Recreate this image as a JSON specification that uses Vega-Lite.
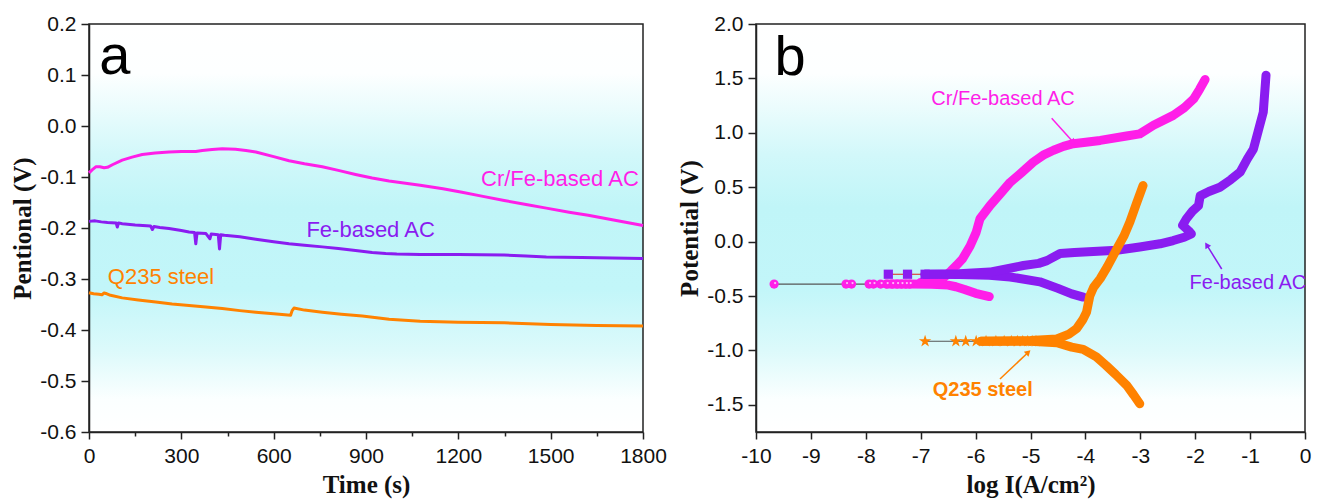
{
  "$schema": "https://vega.github.io/schema/vega-lite/v6.json",
  "background": "white",
  "padding": {"left": 10, "top": 12, "right": 8, "bottom": 4},
  "spacing": 9,
  "config": {
    "view": {
      "stroke": "#222222",
      "strokeWidth": 1.5,
      "fill": {
        "gradient": "linear", "x1": 0, "y1": 0, "x2": 0, "y2": 1,
        "stops": [
          {"offset": 0, "color": "#ffffff"},
          {"offset": 0.12, "color": "#fdffff"},
          {"offset": 0.32, "color": "#d2f8fa"},
          {"offset": 0.45, "color": "#c0f5f8"},
          {"offset": 0.65, "color": "#c2f6f9"},
          {"offset": 0.8, "color": "#dcfafb"},
          {"offset": 0.92, "color": "#fbffff"},
          {"offset": 1, "color": "#ffffff"}
        ]
      }
    },
    "axis": {
      "labelFont": "Liberation Sans",
      "labelFontSize": 21,
      "labelColor": "#111111",
      "labelOverlap": false,
      "titleFont": "Liberation Serif",
      "titleFontSize": 25,
      "titleFontWeight": "bold",
      "titleColor": "#111111",
      "domainColor": "#222222",
      "domainWidth": 1.5,
      "tickColor": "#222222",
      "tickWidth": 1.5,
      "grid": false,
      "labelPadding": 5
    },
    "text": {"font": "Liberation Sans"}
  },
  "datasets": {
    "ocp": [
      {"s": "Cr/Fe-based AC", "t": 0, "v": -0.092},
      {"s": "Cr/Fe-based AC", "t": 10, "v": -0.086},
      {"s": "Cr/Fe-based AC", "t": 22, "v": -0.080},
      {"s": "Cr/Fe-based AC", "t": 35, "v": -0.080},
      {"s": "Cr/Fe-based AC", "t": 49, "v": -0.082},
      {"s": "Cr/Fe-based AC", "t": 60, "v": -0.081},
      {"s": "Cr/Fe-based AC", "t": 76, "v": -0.076},
      {"s": "Cr/Fe-based AC", "t": 108, "v": -0.067},
      {"s": "Cr/Fe-based AC", "t": 140, "v": -0.061},
      {"s": "Cr/Fe-based AC", "t": 173, "v": -0.056},
      {"s": "Cr/Fe-based AC", "t": 215, "v": -0.053},
      {"s": "Cr/Fe-based AC", "t": 260, "v": -0.051},
      {"s": "Cr/Fe-based AC", "t": 300, "v": -0.050},
      {"s": "Cr/Fe-based AC", "t": 347, "v": -0.050},
      {"s": "Cr/Fe-based AC", "t": 368, "v": -0.048},
      {"s": "Cr/Fe-based AC", "t": 400, "v": -0.046},
      {"s": "Cr/Fe-based AC", "t": 433, "v": -0.0445},
      {"s": "Cr/Fe-based AC", "t": 476, "v": -0.0455},
      {"s": "Cr/Fe-based AC", "t": 510, "v": -0.048},
      {"s": "Cr/Fe-based AC", "t": 542, "v": -0.051},
      {"s": "Cr/Fe-based AC", "t": 600, "v": -0.060},
      {"s": "Cr/Fe-based AC", "t": 650, "v": -0.068},
      {"s": "Cr/Fe-based AC", "t": 700, "v": -0.074},
      {"s": "Cr/Fe-based AC", "t": 758, "v": -0.080},
      {"s": "Cr/Fe-based AC", "t": 810, "v": -0.087},
      {"s": "Cr/Fe-based AC", "t": 866, "v": -0.095},
      {"s": "Cr/Fe-based AC", "t": 920, "v": -0.102},
      {"s": "Cr/Fe-based AC", "t": 975, "v": -0.108},
      {"s": "Cr/Fe-based AC", "t": 1076, "v": -0.116},
      {"s": "Cr/Fe-based AC", "t": 1150, "v": -0.123},
      {"s": "Cr/Fe-based AC", "t": 1212, "v": -0.130},
      {"s": "Cr/Fe-based AC", "t": 1280, "v": -0.138},
      {"s": "Cr/Fe-based AC", "t": 1349, "v": -0.146},
      {"s": "Cr/Fe-based AC", "t": 1420, "v": -0.154},
      {"s": "Cr/Fe-based AC", "t": 1486, "v": -0.161},
      {"s": "Cr/Fe-based AC", "t": 1560, "v": -0.169},
      {"s": "Cr/Fe-based AC", "t": 1622, "v": -0.175},
      {"s": "Cr/Fe-based AC", "t": 1700, "v": -0.184},
      {"s": "Cr/Fe-based AC", "t": 1800, "v": -0.195},
      {"s": "Fe-based AC", "t": 0, "v": -0.187},
      {"s": "Fe-based AC", "t": 20, "v": -0.186},
      {"s": "Fe-based AC", "t": 40, "v": -0.188},
      {"s": "Fe-based AC", "t": 60, "v": -0.189},
      {"s": "Fe-based AC", "t": 88, "v": -0.190},
      {"s": "Fe-based AC", "t": 92, "v": -0.198},
      {"s": "Fe-based AC", "t": 96, "v": -0.190},
      {"s": "Fe-based AC", "t": 108, "v": -0.1915},
      {"s": "Fe-based AC", "t": 150, "v": -0.194},
      {"s": "Fe-based AC", "t": 200, "v": -0.196},
      {"s": "Fe-based AC", "t": 206, "v": -0.203},
      {"s": "Fe-based AC", "t": 211, "v": -0.197},
      {"s": "Fe-based AC", "t": 230, "v": -0.199},
      {"s": "Fe-based AC", "t": 260, "v": -0.201},
      {"s": "Fe-based AC", "t": 300, "v": -0.205},
      {"s": "Fe-based AC", "t": 325, "v": -0.208},
      {"s": "Fe-based AC", "t": 343, "v": -0.209},
      {"s": "Fe-based AC", "t": 347, "v": -0.231},
      {"s": "Fe-based AC", "t": 351, "v": -0.210},
      {"s": "Fe-based AC", "t": 380, "v": -0.211},
      {"s": "Fe-based AC", "t": 393, "v": -0.221},
      {"s": "Fe-based AC", "t": 397, "v": -0.212},
      {"s": "Fe-based AC", "t": 420, "v": -0.213},
      {"s": "Fe-based AC", "t": 424, "v": -0.241},
      {"s": "Fe-based AC", "t": 428, "v": -0.213},
      {"s": "Fe-based AC", "t": 440, "v": -0.214},
      {"s": "Fe-based AC", "t": 490, "v": -0.217},
      {"s": "Fe-based AC", "t": 542, "v": -0.222},
      {"s": "Fe-based AC", "t": 600, "v": -0.227},
      {"s": "Fe-based AC", "t": 650, "v": -0.231},
      {"s": "Fe-based AC", "t": 700, "v": -0.234},
      {"s": "Fe-based AC", "t": 758, "v": -0.237},
      {"s": "Fe-based AC", "t": 810, "v": -0.240},
      {"s": "Fe-based AC", "t": 866, "v": -0.244},
      {"s": "Fe-based AC", "t": 920, "v": -0.248},
      {"s": "Fe-based AC", "t": 964, "v": -0.250},
      {"s": "Fe-based AC", "t": 1000, "v": -0.251},
      {"s": "Fe-based AC", "t": 1076, "v": -0.252},
      {"s": "Fe-based AC", "t": 1200, "v": -0.252},
      {"s": "Fe-based AC", "t": 1349, "v": -0.253},
      {"s": "Fe-based AC", "t": 1420, "v": -0.255},
      {"s": "Fe-based AC", "t": 1486, "v": -0.257},
      {"s": "Fe-based AC", "t": 1600, "v": -0.258},
      {"s": "Fe-based AC", "t": 1700, "v": -0.259},
      {"s": "Fe-based AC", "t": 1800, "v": -0.260},
      {"s": "Q235 steel", "t": 0, "v": -0.327},
      {"s": "Q235 steel", "t": 15, "v": -0.329},
      {"s": "Q235 steel", "t": 32, "v": -0.330},
      {"s": "Q235 steel", "t": 42, "v": -0.331},
      {"s": "Q235 steel", "t": 49, "v": -0.3275},
      {"s": "Q235 steel", "t": 58, "v": -0.329},
      {"s": "Q235 steel", "t": 70, "v": -0.332},
      {"s": "Q235 steel", "t": 108, "v": -0.337},
      {"s": "Q235 steel", "t": 160, "v": -0.341},
      {"s": "Q235 steel", "t": 217, "v": -0.345},
      {"s": "Q235 steel", "t": 270, "v": -0.349},
      {"s": "Q235 steel", "t": 325, "v": -0.352},
      {"s": "Q235 steel", "t": 380, "v": -0.355},
      {"s": "Q235 steel", "t": 433, "v": -0.358},
      {"s": "Q235 steel", "t": 490, "v": -0.362},
      {"s": "Q235 steel", "t": 542, "v": -0.365},
      {"s": "Q235 steel", "t": 600, "v": -0.368},
      {"s": "Q235 steel", "t": 655, "v": -0.371},
      {"s": "Q235 steel", "t": 660, "v": -0.362},
      {"s": "Q235 steel", "t": 666, "v": -0.357},
      {"s": "Q235 steel", "t": 700, "v": -0.361},
      {"s": "Q235 steel", "t": 758, "v": -0.365},
      {"s": "Q235 steel", "t": 820, "v": -0.369},
      {"s": "Q235 steel", "t": 888, "v": -0.3725},
      {"s": "Q235 steel", "t": 975, "v": -0.379},
      {"s": "Q235 steel", "t": 1076, "v": -0.383},
      {"s": "Q235 steel", "t": 1200, "v": -0.385},
      {"s": "Q235 steel", "t": 1349, "v": -0.386},
      {"s": "Q235 steel", "t": 1500, "v": -0.389},
      {"s": "Q235 steel", "t": 1650, "v": -0.391},
      {"s": "Q235 steel", "t": 1800, "v": -0.392}
    ],
    "ocpLab": [
      {"s": "Cr/Fe-based AC", "t": 1530, "v": -0.103},
      {"s": "Fe-based AC", "t": 915, "v": -0.204},
      {"s": "Q235 steel", "t": 234, "v": -0.296}
    ],
    "pol": [
      {"s": "Cr/Fe-based AC", "b": "c", "o": 1, "x": -7.62, "e": -0.39},
      {"s": "Cr/Fe-based AC", "b": "c", "o": 2, "x": -7.2, "e": -0.39},
      {"s": "Cr/Fe-based AC", "b": "c", "o": 3, "x": -6.8, "e": -0.392},
      {"s": "Cr/Fe-based AC", "b": "c", "o": 4, "x": -6.5, "e": -0.40},
      {"s": "Cr/Fe-based AC", "b": "c", "o": 5, "x": -6.36, "e": -0.415},
      {"s": "Cr/Fe-based AC", "b": "c", "o": 6, "x": -6.2, "e": -0.44},
      {"s": "Cr/Fe-based AC", "b": "c", "o": 7, "x": -6.0, "e": -0.475},
      {"s": "Cr/Fe-based AC", "b": "c", "o": 8, "x": -5.75, "e": -0.505},
      {"s": "Cr/Fe-based AC", "b": "a", "o": 1, "x": -7.0, "e": -0.375},
      {"s": "Cr/Fe-based AC", "b": "a", "o": 2, "x": -6.75, "e": -0.355},
      {"s": "Cr/Fe-based AC", "b": "a", "o": 3, "x": -6.6, "e": -0.34},
      {"s": "Cr/Fe-based AC", "b": "a", "o": 4, "x": -6.45, "e": -0.27},
      {"s": "Cr/Fe-based AC", "b": "a", "o": 5, "x": -6.35, "e": -0.22},
      {"s": "Cr/Fe-based AC", "b": "a", "o": 6, "x": -6.24, "e": -0.16},
      {"s": "Cr/Fe-based AC", "b": "a", "o": 7, "x": -6.1, "e": -0.04},
      {"s": "Cr/Fe-based AC", "b": "a", "o": 8, "x": -5.99, "e": 0.085},
      {"s": "Cr/Fe-based AC", "b": "a", "o": 9, "x": -5.92, "e": 0.21},
      {"s": "Cr/Fe-based AC", "b": "a", "o": 10, "x": -5.74, "e": 0.33},
      {"s": "Cr/Fe-based AC", "b": "a", "o": 11, "x": -5.55, "e": 0.44},
      {"s": "Cr/Fe-based AC", "b": "a", "o": 12, "x": -5.37, "e": 0.545},
      {"s": "Cr/Fe-based AC", "b": "a", "o": 13, "x": -5.15, "e": 0.64},
      {"s": "Cr/Fe-based AC", "b": "a", "o": 14, "x": -4.95, "e": 0.73},
      {"s": "Cr/Fe-based AC", "b": "a", "o": 15, "x": -4.75, "e": 0.80},
      {"s": "Cr/Fe-based AC", "b": "a", "o": 16, "x": -4.58, "e": 0.84},
      {"s": "Cr/Fe-based AC", "b": "a", "o": 17, "x": -4.4, "e": 0.875},
      {"s": "Cr/Fe-based AC", "b": "a", "o": 18, "x": -4.22, "e": 0.90},
      {"s": "Cr/Fe-based AC", "b": "a", "o": 19, "x": -3.73, "e": 0.93},
      {"s": "Cr/Fe-based AC", "b": "a", "o": 20, "x": -3.25, "e": 0.97},
      {"s": "Cr/Fe-based AC", "b": "a", "o": 21, "x": -3.01, "e": 0.99},
      {"s": "Cr/Fe-based AC", "b": "a", "o": 22, "x": -2.76, "e": 1.07},
      {"s": "Cr/Fe-based AC", "b": "a", "o": 23, "x": -2.40, "e": 1.16},
      {"s": "Cr/Fe-based AC", "b": "a", "o": 24, "x": -2.2, "e": 1.23},
      {"s": "Cr/Fe-based AC", "b": "a", "o": 25, "x": -2.03, "e": 1.31},
      {"s": "Cr/Fe-based AC", "b": "a", "o": 26, "x": -1.92, "e": 1.40},
      {"s": "Cr/Fe-based AC", "b": "a", "o": 27, "x": -1.82, "e": 1.49},
      {"s": "Fe-based AC", "b": "c", "o": 1, "x": -6.92, "e": -0.30},
      {"s": "Fe-based AC", "b": "c", "o": 2, "x": -6.3, "e": -0.302},
      {"s": "Fe-based AC", "b": "c", "o": 3, "x": -5.75, "e": -0.31},
      {"s": "Fe-based AC", "b": "c", "o": 4, "x": -5.37, "e": -0.325},
      {"s": "Fe-based AC", "b": "c", "o": 5, "x": -4.83, "e": -0.37},
      {"s": "Fe-based AC", "b": "c", "o": 6, "x": -4.5, "e": -0.43},
      {"s": "Fe-based AC", "b": "c", "o": 7, "x": -4.25, "e": -0.48},
      {"s": "Fe-based AC", "b": "c", "o": 8, "x": -4.04, "e": -0.51},
      {"s": "Fe-based AC", "b": "a", "o": 1, "x": -6.92, "e": -0.30},
      {"s": "Fe-based AC", "b": "a", "o": 2, "x": -6.3, "e": -0.295},
      {"s": "Fe-based AC", "b": "a", "o": 3, "x": -5.74, "e": -0.28},
      {"s": "Fe-based AC", "b": "a", "o": 4, "x": -5.13, "e": -0.22},
      {"s": "Fe-based AC", "b": "a", "o": 5, "x": -4.85, "e": -0.20},
      {"s": "Fe-based AC", "b": "a", "o": 6, "x": -4.70, "e": -0.175},
      {"s": "Fe-based AC", "b": "a", "o": 7, "x": -4.46, "e": -0.11},
      {"s": "Fe-based AC", "b": "a", "o": 8, "x": -4.2, "e": -0.10},
      {"s": "Fe-based AC", "b": "a", "o": 9, "x": -3.43, "e": -0.08},
      {"s": "Fe-based AC", "b": "a", "o": 10, "x": -3.01, "e": -0.05},
      {"s": "Fe-based AC", "b": "a", "o": 11, "x": -2.64, "e": -0.02},
      {"s": "Fe-based AC", "b": "a", "o": 12, "x": -2.40, "e": 0.01},
      {"s": "Fe-based AC", "b": "a", "o": 13, "x": -2.2, "e": 0.04},
      {"s": "Fe-based AC", "b": "a", "o": 14, "x": -2.07, "e": 0.07},
      {"s": "Fe-based AC", "b": "a", "o": 15, "x": -2.12, "e": 0.10},
      {"s": "Fe-based AC", "b": "a", "o": 16, "x": -2.23, "e": 0.15},
      {"s": "Fe-based AC", "b": "a", "o": 17, "x": -2.16, "e": 0.21},
      {"s": "Fe-based AC", "b": "a", "o": 18, "x": -2.05, "e": 0.28},
      {"s": "Fe-based AC", "b": "a", "o": 19, "x": -1.94, "e": 0.33},
      {"s": "Fe-based AC", "b": "a", "o": 20, "x": -1.91, "e": 0.42},
      {"s": "Fe-based AC", "b": "a", "o": 21, "x": -1.75, "e": 0.46},
      {"s": "Fe-based AC", "b": "a", "o": 22, "x": -1.55, "e": 0.50},
      {"s": "Fe-based AC", "b": "a", "o": 23, "x": -1.35, "e": 0.57},
      {"s": "Fe-based AC", "b": "a", "o": 24, "x": -1.18, "e": 0.64},
      {"s": "Fe-based AC", "b": "a", "o": 25, "x": -1.05, "e": 0.76},
      {"s": "Fe-based AC", "b": "a", "o": 26, "x": -0.94, "e": 0.85},
      {"s": "Fe-based AC", "b": "a", "o": 27, "x": -0.85, "e": 1.02},
      {"s": "Fe-based AC", "b": "a", "o": 28, "x": -0.76, "e": 1.19},
      {"s": "Fe-based AC", "b": "a", "o": 29, "x": -0.71, "e": 1.53},
      {"s": "Q235 steel", "b": "c", "o": 1, "x": -5.9, "e": -0.916},
      {"s": "Q235 steel", "b": "c", "o": 2, "x": -5.0, "e": -0.915},
      {"s": "Q235 steel", "b": "c", "o": 3, "x": -4.52, "e": -0.93},
      {"s": "Q235 steel", "b": "c", "o": 4, "x": -4.25, "e": -0.97},
      {"s": "Q235 steel", "b": "c", "o": 5, "x": -4.04, "e": -0.99},
      {"s": "Q235 steel", "b": "c", "o": 6, "x": -3.8, "e": -1.06},
      {"s": "Q235 steel", "b": "c", "o": 7, "x": -3.62, "e": -1.14},
      {"s": "Q235 steel", "b": "c", "o": 8, "x": -3.45, "e": -1.22},
      {"s": "Q235 steel", "b": "c", "o": 9, "x": -3.25, "e": -1.32},
      {"s": "Q235 steel", "b": "c", "o": 10, "x": -3.12, "e": -1.41},
      {"s": "Q235 steel", "b": "c", "o": 11, "x": -3.01, "e": -1.49},
      {"s": "Q235 steel", "b": "a", "o": 1, "x": -5.9, "e": -0.916},
      {"s": "Q235 steel", "b": "a", "o": 2, "x": -5.0, "e": -0.91},
      {"s": "Q235 steel", "b": "a", "o": 3, "x": -4.52, "e": -0.895},
      {"s": "Q235 steel", "b": "a", "o": 4, "x": -4.3, "e": -0.85},
      {"s": "Q235 steel", "b": "a", "o": 5, "x": -4.16, "e": -0.80},
      {"s": "Q235 steel", "b": "a", "o": 6, "x": -4.05, "e": -0.72},
      {"s": "Q235 steel", "b": "a", "o": 7, "x": -3.98, "e": -0.65},
      {"s": "Q235 steel", "b": "a", "o": 8, "x": -3.92, "e": -0.50},
      {"s": "Q235 steel", "b": "a", "o": 9, "x": -3.85, "e": -0.42},
      {"s": "Q235 steel", "b": "a", "o": 10, "x": -3.73, "e": -0.34},
      {"s": "Q235 steel", "b": "a", "o": 11, "x": -3.6, "e": -0.23},
      {"s": "Q235 steel", "b": "a", "o": 12, "x": -3.43, "e": -0.07},
      {"s": "Q235 steel", "b": "a", "o": 13, "x": -3.3, "e": 0.05},
      {"s": "Q235 steel", "b": "a", "o": 14, "x": -3.19, "e": 0.18},
      {"s": "Q235 steel", "b": "a", "o": 15, "x": -3.07, "e": 0.35},
      {"s": "Q235 steel", "b": "a", "o": 16, "x": -2.95, "e": 0.515}
    ],
    "tail": [
      {"s": "Cr/Fe-based AC", "x": -9.67, "e": -0.39},
      {"s": "Cr/Fe-based AC", "x": -8.36, "e": -0.39},
      {"s": "Cr/Fe-based AC", "x": -8.26, "e": -0.39},
      {"s": "Cr/Fe-based AC", "x": -7.94, "e": -0.39},
      {"s": "Cr/Fe-based AC", "x": -7.86, "e": -0.39},
      {"s": "Cr/Fe-based AC", "x": -7.73, "e": -0.39},
      {"s": "Cr/Fe-based AC", "x": -7.62, "e": -0.39},
      {"s": "Cr/Fe-based AC", "x": -7.52, "e": -0.39},
      {"s": "Cr/Fe-based AC", "x": -7.43, "e": -0.39},
      {"s": "Cr/Fe-based AC", "x": -7.35, "e": -0.39},
      {"s": "Cr/Fe-based AC", "x": -7.27, "e": -0.39},
      {"s": "Cr/Fe-based AC", "x": -7.2, "e": -0.39},
      {"s": "Fe-based AC", "x": -7.59, "e": -0.30},
      {"s": "Fe-based AC", "x": -7.24, "e": -0.30},
      {"s": "Fe-based AC", "x": -6.92, "e": -0.30},
      {"s": "Q235 steel", "x": -6.92, "e": -0.916},
      {"s": "Q235 steel", "x": -6.36, "e": -0.916},
      {"s": "Q235 steel", "x": -6.18, "e": -0.916},
      {"s": "Q235 steel", "x": -5.99, "e": -0.916},
      {"s": "Q235 steel", "x": -5.81, "e": -0.916},
      {"s": "Q235 steel", "x": -5.63, "e": -0.916},
      {"s": "Q235 steel", "x": -5.48, "e": -0.916},
      {"s": "Q235 steel", "x": -5.35, "e": -0.916},
      {"s": "Q235 steel", "x": -5.24, "e": -0.916},
      {"s": "Q235 steel", "x": -5.14, "e": -0.916},
      {"s": "Q235 steel", "x": -5.05, "e": -0.916},
      {"s": "Q235 steel", "x": -4.97, "e": -0.916},
      {"s": "Q235 steel", "x": -4.9, "e": -0.916}
    ],
    "polLab": [
      {"s": "Cr/Fe-based AC", "x": -5.50, "e": 1.31},
      {"s": "Fe-based AC", "x": -1.04, "e": -0.376}
    ],
    "arrows": [
      {"s": "Cr/Fe-based AC", "x1": -4.614, "y1": 1.133, "x2": -4.22, "y2": 0.913},
      {"s": "Fe-based AC", "x1": -1.517, "y1": -0.252, "x2": -1.79, "y2": -0.031},
      {"s": "Q235 steel", "x1": -5.556, "y1": -1.263, "x2": -5.04, "y2": -1.017}
    ]
  },
  "hconcat": [
    {
      "width": 554,
      "height": 408,
      "layer": [
        {
          "data": {"name": "ocp"},
          "mark": {"type": "line", "strokeWidth": 3, "strokeJoin": "round"},
          "encoding": {
            "x": {
              "field": "t", "type": "quantitative",
              "scale": {"domain": [0, 1800], "nice": false, "zero": false},
              "axis": {
                "title": "Time (s)",
                "values": [0, 150, 300, 450, 600, 750, 900, 1050, 1200, 1350, 1500, 1650, 1800],
                "format": "d",
                "labelExpr": "datum.value % 300 == 0 ? datum.label : ''",
                "tickSize": {"condition": {"test": "datum.value % 300 == 0", "value": 7}, "value": 4},
                "labelOverlap": false,
                "labelPadding": 6,
                "titlePadding": 6,
                "labelFlush": false
              }
            },
            "y": {
              "field": "v", "type": "quantitative",
              "scale": {"domain": [-0.6, 0.2], "nice": false, "zero": false},
              "axis": {
                "title": "Pentional (V)",
                "values": [-0.6, -0.55, -0.5, -0.45, -0.4, -0.35, -0.3, -0.25, -0.2, -0.15, -0.1, -0.05, 0, 0.05, 0.1, 0.15, 0.2],
                "format": ".1f",
                "labelExpr": "abs(round(datum.value*20)) % 2 == 0 ? replace(datum.label, '\u2212', '-') : ''",
                "tickSize": {"condition": {"test": "abs(round(datum.value*20)) % 2 == 0", "value": 8}, "value": 4},
                "labelOverlap": false,
                "labelPadding": 5,
                "titlePadding": 4
              }
            },
            "color": {
              "field": "s", "type": "nominal",
              "scale": {"domain": ["Cr/Fe-based AC", "Fe-based AC", "Q235 steel"], "range": ["#ff1ee8", "#8a1cf0", "#ff8200"]},
              "legend": null
            }
          }
        },
        {
          "data": {"name": "ocpLab"},
          "mark": {"type": "text", "fontSize": 22, "align": "center", "baseline": "middle", "font": "Liberation Sans"},
          "encoding": {
            "x": {"field": "t", "type": "quantitative"},
            "y": {"field": "v", "type": "quantitative"},
            "text": {"field": "s"},
            "color": {"field": "s", "type": "nominal", "scale": {"domain": ["Cr/Fe-based AC", "Fe-based AC", "Q235 steel"], "range": ["#ff1ee8", "#8a1cf0", "#ff8200"]}, "legend": null}
          }
        },
        {
          "data": {"values": [{"t": 84, "v": 0.102, "txt": "a"}]},
          "mark": {"type": "text", "fontSize": 56, "align": "center", "baseline": "alphabetic", "font": "Liberation Sans", "color": "#000000"},
          "encoding": {
            "x": {"field": "t", "type": "quantitative"},
            "y": {"field": "v", "type": "quantitative"},
            "text": {"field": "txt"}
          }
        }
      ]
    },
    {
      "width": 549,
      "height": 408,
      "layer": [
        {
          "data": {"name": "tail"},
          "transform": [{"filter": "datum.s != 'Fe-based AC'"}],
          "mark": {"type": "line", "strokeWidth": 1.2, "color": "#555555"},
          "encoding": {
            "x": {
              "field": "x", "type": "quantitative",
              "scale": {"domain": [-10, 0], "nice": false, "zero": false},
              "axis": {
                "title": "log I(A/cm²)",
                "values": [-10, -9.5, -9, -8.5, -8, -7.5, -7, -6.5, -6, -5.5, -5, -4.5, -4, -3.5, -3, -2.5, -2, -1.5, -1, -0.5, 0],
                "labelExpr": "datum.value % 1 == 0 ? replace(format(datum.value, 'd'), '\u2212', '-') : ''",
                "tickSize": {"condition": {"test": "datum.value % 1 == 0", "value": 7}, "value": 4},
                "labelOverlap": false,
                "labelPadding": 6,
                "titlePadding": 6,
                "labelFlush": false
              }
            },
            "y": {
              "field": "e", "type": "quantitative",
              "scale": {"domain": [-1.75, 2.0], "nice": false, "zero": false},
              "axis": {
                "title": "Potential (V)",
                "values": [-1.5, -1.25, -1, -0.75, -0.5, -0.25, 0, 0.25, 0.5, 0.75, 1, 1.25, 1.5, 1.75, 2],
                "format": ".1f",
                "labelExpr": "abs(round(datum.value*4)) % 2 == 0 ? replace(datum.label, '\u2212', '-') : ''",
                "tickSize": {"condition": {"test": "abs(round(datum.value*4)) % 2 == 0", "value": 8}, "value": 4},
                "labelOverlap": false,
                "labelPadding": 5,
                "titlePadding": 4
              }
            },
            "detail": {"field": "s"}
          }
        },
        {
          "data": {"name": "tail"},
          "transform": [{"filter": "datum.s == 'Fe-based AC'"}],
          "mark": {"type": "line", "strokeWidth": 1.2, "color": "#e0201a"},
          "encoding": {
            "x": {"field": "x", "type": "quantitative"},
            "y": {"field": "e", "type": "quantitative"}
          }
        },
        {
          "data": {"name": "pol"},
          "mark": {"type": "line", "strokeWidth": 9, "strokeCap": "round", "strokeJoin": "round"},
          "encoding": {
            "x": {"field": "x", "type": "quantitative"},
            "y": {"field": "e", "type": "quantitative"},
            "color": {"field": "s", "type": "nominal", "scale": {"domain": ["Cr/Fe-based AC", "Fe-based AC", "Q235 steel"], "range": ["#ff1ee8", "#8a1cf0", "#ff8200"]}, "legend": null},
            "detail": {"field": "b"},
            "order": {"field": "o", "type": "quantitative"}
          }
        },
        {
          "data": {"name": "tail"},
          "transform": [{"filter": "datum.s != 'Q235 steel'"}],
          "mark": {"type": "point", "filled": true, "opacity": 1, "size": 85},
          "encoding": {
            "x": {"field": "x", "type": "quantitative"},
            "y": {"field": "e", "type": "quantitative"},
            "color": {"field": "s", "type": "nominal", "scale": {"domain": ["Cr/Fe-based AC", "Fe-based AC", "Q235 steel"], "range": ["#ff1ee8", "#8a1cf0", "#ff8200"]}, "legend": null},
            "shape": {"field": "s", "type": "nominal", "scale": {"domain": ["Cr/Fe-based AC", "Fe-based AC"], "range": ["circle", "square"]}, "legend": null}
          }
        },
        {
          "data": {"name": "tail"},
          "transform": [{"filter": "datum.s == 'Q235 steel'"}],
          "mark": {"type": "point", "filled": true, "opacity": 1, "size": 170, "color": "#ff8200", "shape": "M0,-1L0.2245,-0.309L0.951,-0.309L0.363,0.118L0.588,0.809L0,0.382L-0.588,0.809L-0.363,0.118L-0.951,-0.309L-0.2245,-0.309Z"},
          "encoding": {
            "x": {"field": "x", "type": "quantitative"},
            "y": {"field": "e", "type": "quantitative"}
          }
        },
        {
          "data": {"name": "tail"},
          "transform": [{"filter": "datum.s == 'Cr/Fe-based AC'"}],
          "mark": {"type": "point", "filled": true, "opacity": 0.7, "size": 5, "color": "#ffffff", "xOffset": 1, "yOffset": -1},
          "encoding": {
            "x": {"field": "x", "type": "quantitative"},
            "y": {"field": "e", "type": "quantitative"}
          }
        },
        {
          "data": {"name": "arrows"},
          "mark": {"type": "rule", "strokeWidth": 1.5},
          "encoding": {
            "x": {"field": "x1", "type": "quantitative"},
            "y": {"field": "y1", "type": "quantitative"},
            "x2": {"field": "x2"},
            "y2": {"field": "y2"},
            "color": {"field": "s", "type": "nominal", "scale": {"domain": ["Cr/Fe-based AC", "Fe-based AC", "Q235 steel"], "range": ["#ff1ee8", "#8a1cf0", "#ff8200"]}, "legend": null}
          }
        },
        {
          "data": {"name": "arrows"},
          "transform": [{"filter": "datum.s == 'Cr/Fe-based AC'"}],
          "mark": {"type": "point", "shape": "triangle-up", "filled": true, "opacity": 1, "size": 45, "angle": 138, "color": "#ff1ee8"},
          "encoding": {
            "x": {"field": "x2", "type": "quantitative"},
            "y": {"field": "y2", "type": "quantitative"}
          }
        },
        {
          "data": {"name": "arrows"},
          "transform": [{"filter": "datum.s == 'Fe-based AC'"}],
          "mark": {"type": "point", "shape": "triangle-up", "filled": true, "opacity": 1, "size": 45, "angle": 328, "color": "#8a1cf0"},
          "encoding": {
            "x": {"field": "x2", "type": "quantitative"},
            "y": {"field": "y2", "type": "quantitative"}
          }
        },
        {
          "data": {"name": "arrows"},
          "transform": [{"filter": "datum.s == 'Q235 steel'"}],
          "mark": {"type": "point", "shape": "triangle-up", "filled": true, "opacity": 1, "size": 45, "angle": 47, "color": "#ff8200"},
          "encoding": {
            "x": {"field": "x2", "type": "quantitative"},
            "y": {"field": "y2", "type": "quantitative"}
          }
        },
        {
          "data": {"name": "polLab"},
          "mark": {"type": "text", "fontSize": 20, "align": "center", "baseline": "middle", "font": "Liberation Sans"},
          "encoding": {
            "x": {"field": "x", "type": "quantitative"},
            "y": {"field": "e", "type": "quantitative"},
            "text": {"field": "s"},
            "color": {"field": "s", "type": "nominal", "scale": {"domain": ["Cr/Fe-based AC", "Fe-based AC", "Q235 steel"], "range": ["#ff1ee8", "#8a1cf0", "#ff8200"]}, "legend": null}
          }
        },
        {
          "data": {"values": [{"x": -5.87, "e": -1.367, "txt": "Q235 steel"}]},
          "mark": {"type": "text", "fontSize": 20, "fontWeight": "bold", "align": "center", "baseline": "middle", "font": "Liberation Sans", "color": "#ff8200"},
          "encoding": {
            "x": {"field": "x", "type": "quantitative"},
            "y": {"field": "e", "type": "quantitative"},
            "text": {"field": "txt"}
          }
        },
        {
          "data": {"values": [{"x": -9.38, "e": 1.53, "txt": "b"}]},
          "mark": {"type": "text", "fontSize": 56, "align": "center", "baseline": "alphabetic", "font": "Liberation Sans", "color": "#000000"},
          "encoding": {
            "x": {"field": "x", "type": "quantitative"},
            "y": {"field": "e", "type": "quantitative"},
            "text": {"field": "txt"}
          }
        }
      ]
    }
  ]
}
